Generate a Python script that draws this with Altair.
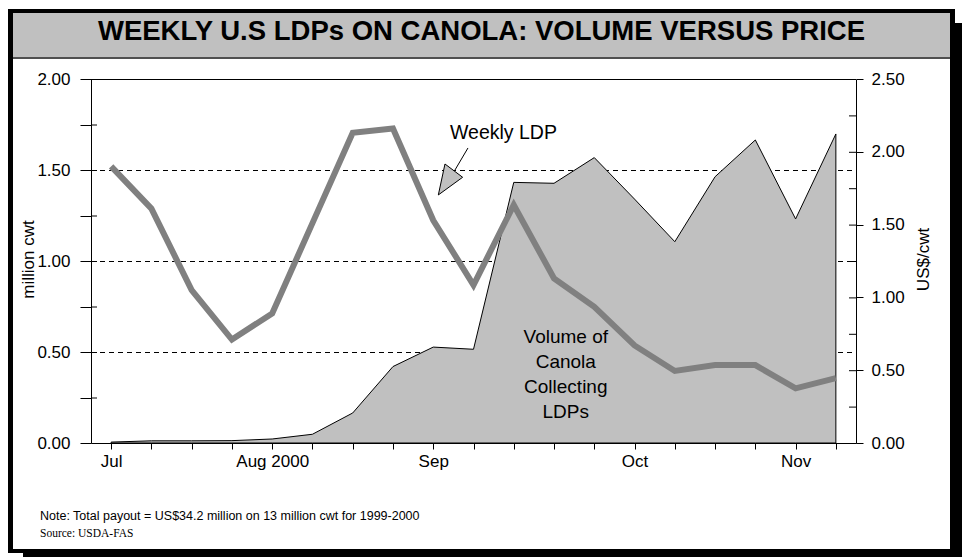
import altair as alt
import pandas as pd

TITLE = "WEEKLY U.S LDPs ON CANOLA: VOLUME VERSUS PRICE"
NOTE = "Note: Total payout = US$34.2 million on 13 million cwt for 1999-2000"
SOURCE = "Source: USDA-FAS"
LEFT_TITLE = "million cwt"
RIGHT_TITLE = "US$/cwt"
PRICE_NOTE = "Weekly LDP"
VOLUME_NOTE = ["Volume of", "Canola", "Collecting", "LDPs"]

# weekly observations, 7 July to 10 November 2000
week = list(range(19))
volume_mcwt = [0.005, 0.012, 0.012, 0.013, 0.022, 0.048, 0.165, 0.42, 0.527, 0.515,
               1.432, 1.427, 1.568, 1.34, 1.106, 1.463, 1.665, 1.231, 1.698]
ldp_usd_cwt = [1.90, 1.61, 1.05, 0.71, 0.89, 1.51, 2.13, 2.16, 1.53, 1.085,
               1.635, 1.13, 0.935, 0.67, 0.495, 0.535, 0.535, 0.375, 0.445]
month_at_week = [0, 4, 8, 13, 17]
month_label = ["Jul", "Aug 2000", "Sep", "Oct", "Nov"]
volume_ticks = [0.0, 0.25, 0.5, 0.75, 1.0, 1.25, 1.5, 1.75, 2.0]
ldp_ticks = [0.0, 0.25, 0.5, 0.75, 1.0, 1.25, 1.5, 1.75, 2.0, 2.25, 2.5]
dashed_levels = [0.5, 1.0, 1.5]

# annotation anchors (week index, million cwt)
price_note_at = (8.416, 1.670)
pointer_from = (8.863, 1.621)
pointer_to = (8.540, 1.500)
pointer_head_at = (8.384, 1.452)
volume_note_at = (11.292, 0.5495)

SANS = "Liberation Sans, Arial, sans-serif"
SERIF = "Liberation Serif, Times New Roman, serif"

W, H = 765, 364          # plot area
OX, OY = 91, 79          # plot origin on the page
PAGE_W, PAGE_H = 962, 557


def px(x):
    return x - OX


def py(y):
    return y - OY


XS = alt.Scale(domain=[-0.5, 18.5], nice=False, zero=False)
YL = alt.Scale(domain=[0, 2], nice=False)
YR = alt.Scale(domain=[0, 2.5], nice=False)

month_expr = " : ".join(
    f"datum.value === {w} ? '{m}'" for w, m in zip(month_at_week, month_label)
) + " : ''"
half_expr = "datum.value % 0.5 === 0 ? format(datum.value, '.2f') : ''"

x_axis = alt.Axis(
    values=week, labelExpr=month_expr, tickSize=6, tickColor="black",
    domainColor="black", labelColor="black", labelFont=SANS, labelFontSize=17,
    labelPadding=4, labelFlush=False, labelOverlap=False, grid=False,
    title=None, zindex=1,
)
left_axis = alt.Axis(
    values=volume_ticks, labelExpr=half_expr, tickSize=11, tickColor="black",
    domainColor="black", labelColor="black", labelFont=SANS, labelFontSize=17,
    labelPadding=10, labelOverlap=False, labelFlush=False, grid=False,
    title=LEFT_TITLE, titleFont=SANS, titleFontSize=17, titleFontWeight="normal",
    titleColor="black", titleAngle=270, titleAlign="center",
    titleBaseline="alphabetic", titleX=-58, titleY=180, zindex=1,
)
right_axis = alt.Axis(
    orient="right", values=ldp_ticks, labelExpr=half_expr, tickSize=7,
    tickColor="black", domainColor="black", labelColor="black", labelFont=SANS,
    labelFontSize=17, labelPadding=8, labelOverlap=False, labelFlush=False,
    grid=False, title=RIGHT_TITLE, titleFont=SANS, titleFontSize=17,
    titleFontWeight="normal", titleColor="black", titleAngle=270,
    titleAlign="center", titleBaseline="alphabetic", titleX=72, titleY=180,
    zindex=1,
)

one = pd.DataFrame({"k": [0]})
series = pd.DataFrame({"week": week, "volume": volume_mcwt, "ldp": ldp_usd_cwt})

# card: drop shadow, black frame, white face, grey title band
shadow = alt.Chart(one).mark_rect(color="black").encode(
    x=alt.value(px(23)), x2=alt.value(px(PAGE_W)),
    y=alt.value(py(23)), y2=alt.value(py(PAGE_H)))
frame = alt.Chart(one).mark_rect(color="black").encode(
    x=alt.value(px(8)), x2=alt.value(px(955)),
    y=alt.value(py(9)), y2=alt.value(py(553)))
face = alt.Chart(one).mark_rect(color="white").encode(
    x=alt.value(px(13)), x2=alt.value(px(950)),
    y=alt.value(py(13)), y2=alt.value(py(549)))
band = alt.Chart(one).mark_rect(color="#c0c0c0").encode(
    x=alt.value(px(13)), x2=alt.value(px(950)),
    y=alt.value(py(13)), y2=alt.value(py(57)))
band_edge = alt.Chart(one).mark_rule(color="#505050", strokeWidth=2).encode(
    x=alt.value(px(13)), x2=alt.value(px(950)), y=alt.value(py(58)))
title = alt.Chart(one).mark_text(
    text=TITLE, font=SANS, fontSize=27.5, fontWeight="bold", color="black",
    align="center", baseline="alphabetic").encode(
    x=alt.value(px(481.5)), y=alt.value(py(40)))
note = alt.Chart(one).mark_text(
    text=NOTE, font=SANS, fontSize=12.5, color="black",
    align="left", baseline="alphabetic").encode(
    x=alt.value(px(40)), y=alt.value(py(520)))
source = alt.Chart(one).mark_text(
    text=SOURCE, font=SERIF, fontSize=11.5, color="black",
    align="left", baseline="alphabetic").encode(
    x=alt.value(px(40)), y=alt.value(py(537)))

# plot frame pieces (half-pixel offset keeps 1px rules crisp)
top_edge = alt.Chart(one).mark_rule(color="black", yOffset=0.5).encode(
    x=alt.value(0), x2=alt.value(W), y=alt.value(0))
dashed = alt.Chart(pd.DataFrame({"level": dashed_levels})).mark_rule(
    color="black", strokeDash=[5, 4], strokeWidth=1, yOffset=0.5).encode(
    y=alt.Y("level:Q", scale=YL), x=alt.value(0), x2=alt.value(W))
left_inner = alt.Chart(pd.DataFrame({"v": volume_ticks[1:-1]})).mark_rule(
    color="black", yOffset=0.5).encode(
    y=alt.Y("v:Q", scale=YL), x=alt.value(0), x2=alt.value(6))

volume_area = alt.Chart(series).mark_area(
    color="#c0c0c0", stroke="black", strokeWidth=1, opacity=1).encode(
    x=alt.X("week:Q", scale=XS, axis=x_axis),
    y=alt.Y("volume:Q", scale=YL, axis=left_axis),
)

ann = pd.DataFrame({
    "tx": [price_note_at[0]], "ty": [price_note_at[1]],
    "ax": [pointer_from[0]], "ay": [pointer_from[1]],
    "bx": [pointer_to[0]], "by": [pointer_to[1]],
    "hx": [pointer_head_at[0]], "hy": [pointer_head_at[1]],
    "vx": [volume_note_at[0]], "vy": [volume_note_at[1]],
})
price_text = alt.Chart(ann).mark_text(
    text=PRICE_NOTE, font=SANS, fontSize=19.5, color="black",
    align="left", baseline="alphabetic").encode(
    x=alt.X("tx:Q", scale=XS), y=alt.Y("ty:Q", scale=YL))
pointer = alt.Chart(ann).mark_rule(color="black", strokeWidth=1).encode(
    x=alt.X("ax:Q", scale=XS), x2="bx:Q",
    y=alt.Y("ay:Q", scale=YL), y2="by:Q")
pointer_head = alt.Chart(ann).mark_point(
    shape="M-0.23,-0.91L0.86,-0.09L-0.64,1Z", size=1050, filled=True,
    fill="#c0c0c0", stroke="black", strokeWidth=1, opacity=1).encode(
    x=alt.X("hx:Q", scale=XS), y=alt.Y("hy:Q", scale=YL))
volume_text = alt.Chart(ann).mark_text(
    text=VOLUME_NOTE, font=SANS, fontSize=19, color="black", lineHeight=25,
    align="center", baseline="alphabetic").encode(
    x=alt.X("vx:Q", scale=XS), y=alt.Y("vy:Q", scale=YL))

left_group = alt.layer(
    shadow, frame, face, band, band_edge, title, note, source,
    dashed, volume_area, top_edge, left_inner,
    price_text, pointer, pointer_head, volume_text,
)

ldp_line = alt.Chart(series).mark_line(color="#808080", strokeWidth=6).encode(
    x=alt.X("week:Q", scale=XS),
    y=alt.Y("ldp:Q", scale=YR, axis=right_axis),
)
right_inner = alt.Chart(pd.DataFrame({"v": ldp_ticks[1:-1]})).mark_rule(
    color="black", yOffset=0.5).encode(
    y=alt.Y("v:Q", scale=YR), x=alt.value(W - 7), x2=alt.value(W))

right_group = alt.layer(ldp_line, right_inner)

chart = (
    alt.layer(left_group, right_group)
    .resolve_scale(y="independent")
    .properties(
        width=W, height=H,
        autosize=alt.AutoSizeParams(type="none"),
        padding={"left": OX, "top": OY, "right": PAGE_W - OX - W,
                 "bottom": PAGE_H - OY - H},
        background="white",
    )
    .configure_view(stroke=None)
)

chart.save("out.html", embed_options={"renderer": "svg", "actions": False})
